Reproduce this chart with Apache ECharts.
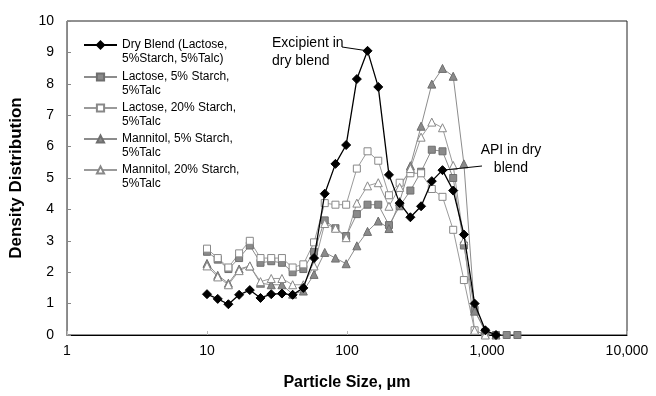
<!DOCTYPE html>
<html><head><meta charset="utf-8">
<script src="https://cdn.jsdelivr.net/npm/echarts@6.0.0/dist/echarts.min.js"></script>
<style>html,body{margin:0;padding:0;background:#fff}#c{width:656px;height:396px}</style>
</head><body><div id="c"></div>
<script>
// particle size bins (µm)
const sizes = [10, 11.93, 14.22, 16.96, 20.22, 24.11, 28.76, 34.29, 40.89, 48.77, 58.15, 69.35, 82.70, 98.62, 117.6, 140.2, 167.2, 199.4, 237.8, 283.6, 338.2, 403.3, 480.9, 573.5, 683.9, 815.5, 972.5, 1159.7, 1383, 1649];
const seriesNames = ["Dry Blend (Lactose,\n5%Starch, 5%Talc)", "Lactose, 5% Starch,\n5%Talc", "Lactose, 20% Starch,\n5%Talc", "Mannitol, 5% Starch,\n5%Talc", "Mannitol, 20% Starch,\n5%Talc"];
const dryBlend    = [1.30, 1.15, 0.98, 1.28, 1.43, 1.18, 1.30, 1.32, 1.28, 1.50, 2.45, 4.50, 5.45, 6.05, 8.15, 9.05, 7.90, 5.10, 4.20, 3.75, 4.10, 4.90, 5.25, 4.60, 3.20, 1.00, 0.15, 0];
const lactose5    = [2.65, 2.40, 2.10, 2.45, 2.85, 2.30, 2.35, 2.30, 2.00, 2.10, 2.65, 3.65, 3.40, 3.15, 3.85, 4.15, 4.15, 3.50, 4.10, 4.60, 5.20, 5.90, 5.85, 5.00, 2.85, 0.80, 0.10, 0, 0, 0];
const lactose20   = [2.75, 2.45, 2.15, 2.60, 3.00, 2.45, 2.45, 2.45, 2.15, 2.25, 2.95, 4.20, 4.15, 4.15, 5.30, 5.85, 5.55, 4.45, 4.85, 5.15, 5.15, 4.65, 4.40, 3.35, 1.75, 0.15, 0];
const mannitol5   = [2.28, 1.90, 1.65, 2.10, 2.20, 1.65, 1.60, 1.60, 1.30, 1.40, 1.93, 2.63, 2.45, 2.27, 2.84, 3.30, 3.63, 3.39, 4.25, 5.39, 6.65, 7.99, 8.49, 8.24, 5.45, 0.76, 0.15, 0];
const mannitol20  = [2.20, 1.85, 1.60, 2.05, 2.20, 1.70, 1.80, 1.80, 1.60, 1.60, 2.20, 3.55, 3.40, 3.10, 4.20, 4.75, 4.85, 4.10, 4.70, 5.30, 6.30, 6.78, 6.60, 5.40, 3.00, 0.15, 0];
const xTickLabels = {1: "1", 10: "10", 100: "100", 1000: "1,000", 10000: "10,000"};

const FONT = 'Arial, "Liberation Sans", sans-serif';
const chart = echarts.init(document.getElementById('c'), null, {renderer: 'canvas'});

const styles = [
  {symbol: 'diamond', size: 9, line: '#000', fill: '#000', border: '#000', lw: 1.3},
  {symbol: 'rect', size: 7, line: '#8c8c8c', fill: '#8a8a8a', border: '#6e6e6e', lw: 1},
  {symbol: 'rect', size: 7, line: '#9a9a9a', fill: '#fff', border: '#888', lw: 1},
  {symbol: 'triangle', size: 8, line: '#8c8c8c', fill: '#8a8a8a', border: '#6e6e6e', lw: 1},
  {symbol: 'triangle', size: 8, line: '#9a9a9a', fill: '#fff', border: '#888', lw: 1}
];
const allVals = [dryBlend, lactose5, lactose20, mannitol5, mannitol20];

const series = allVals.map((vals, i) => ({
  name: seriesNames[i],
  type: 'line',
  data: vals.map((v, j) => [sizes[j], v]),
  symbol: styles[i].symbol,
  symbolSize: styles[i].size,
  showAllSymbol: true,
  lineStyle: {color: styles[i].line, width: styles[i].lw},
  itemStyle: {color: styles[i].fill, borderColor: styles[i].border, borderWidth: 1},
  emphasis: {disabled: true},
  animation: false,
  z: i === 0 ? 5 : 2
}));

// first text line centred on the legend icon: legend text is a 3-line block whose first line is blank
const legendLineY = [45, 77, 108, 139, 170];
const legends = seriesNames.map((n, i) => ({
  data: [n],
  left: 83, top: legendLineY[i] - 21,
  padding: 0,
  itemWidth: 33, itemHeight: 9,
  selectedMode: false,
  formatter: name => '\n' + name,
  textStyle: {fontFamily: FONT, fontSize: 12, color: '#000', lineHeight: 14}
}));

chart.setOption({
  animation: false,
  backgroundColor: '#fff',
  grid: {left: 64, right: 29, top: 21, bottom: 55, show: true, borderColor: '#222', borderWidth: 1},
  legend: legends,
  xAxis: {
    type: 'log', logBase: 10, min: 1, max: 10000,
    name: 'Particle Size, μm', nameLocation: 'middle', nameGap: 40,
    nameTextStyle: {fontFamily: FONT, fontSize: 16, fontWeight: 'bold', color: '#000'},
    axisLine: {show: true, lineStyle: {color: '#000', width: 1}},
    axisTick: {show: true, inside: true, length: 4, lineStyle: {color: '#bbb'}},
    minorTick: {show: false},
    splitLine: {show: false},
    axisLabel: {fontFamily: FONT, fontSize: 14, color: '#000', margin: 9,
      formatter: v => xTickLabels[Math.round(v)] || ''}
  },
  yAxis: {
    type: 'value', min: 0, max: 10, interval: 1,
    name: 'Density Distribution', nameLocation: 'middle', nameGap: 42,
    nameTextStyle: {fontFamily: FONT, fontSize: 17, fontWeight: 'bold', color: '#000'},
    axisLine: {show: true, lineStyle: {color: '#888', width: 1}},
    axisTick: {show: true, inside: true, length: 4, lineStyle: {color: '#888'}},
    splitLine: {show: false},
    axisLabel: {fontFamily: FONT, fontSize: 14, color: '#000', margin: 13}
  },
  series: series
});

// annotations
const peak = chart.convertToPixel({gridIndex: 0}, [sizes[15], dryBlend[15]]);
const api = chart.convertToPixel({gridIndex: 0}, [sizes[22], dryBlend[22]]);
chart.setOption({
  graphic: [
    {type: 'text', left: 272, top: 34, z: 10, style: {text: 'Excipient in\ndry blend', fontFamily: FONT, fontSize: 14, lineHeight: 18, fill: '#000'}},
    {type: 'line', z: 10, shape: {x1: 342, y1: 47, x2: peak[0], y2: peak[1]}, style: {stroke: '#000', lineWidth: 1}},
    {type: 'text', x: 511, y: 141, z: 10, style: {text: 'API in dry\nblend', fontFamily: FONT, fontSize: 14, lineHeight: 18, fill: '#000', align: 'center'}},
    {type: 'line', z: 10, shape: {x1: 482, y1: 166, x2: api[0], y2: api[1]}, style: {stroke: '#000', lineWidth: 1}}
  ]
});
</script>
</body></html>
